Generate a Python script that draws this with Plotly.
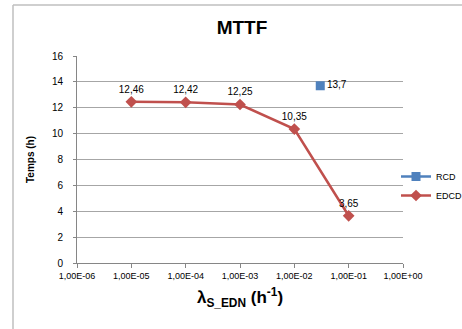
import plotly.graph_objects as go

# Data
edcd_x = [1e-5, 1e-4, 1e-3, 1e-2, 1e-1]
edcd_y = [12.46, 12.42, 12.25, 10.35, 3.65]
rcd_x = [0.03]
rcd_y = [13.7]
x_tickvals = [1e-6, 1e-5, 1e-4, 1e-3, 1e-2, 1e-1, 1e0]
x_ticktext = ["1,00E-06", "1,00E-05", "1,00E-04", "1,00E-03", "1,00E-02", "1,00E-01", "1,00E+00"]


def fmt(v):
    return ("%g" % v).replace(".", ",")


FONT = "Liberation Sans, Arial, sans-serif"
BLUE = "#4F81BD"
RED = "#C0504D"

fig = go.Figure()
fig.add_trace(go.Scatter(
    x=rcd_x, y=rcd_y, name="RCD", mode="lines+markers+text",
    marker=dict(symbol="square", size=9, color=BLUE),
    line=dict(color=BLUE, width=2.5),
    text=[fmt(v) for v in rcd_y], textposition="middle right",
    textfont=dict(size=10, color="#000000", family=FONT),
))
fig.add_trace(go.Scatter(
    x=edcd_x, y=edcd_y, name="EDCD", mode="lines+markers+text",
    marker=dict(symbol="diamond", size=9, color=RED),
    line=dict(color=RED, width=2.5),
    text=[fmt(v) for v in edcd_y], textposition="top center",
    textfont=dict(size=10, color="#000000", family=FONT),
))

L, R, T, B = 77, 59, 56, 66
W, H = 462, 329
pw = W - L - R
ph = H - T - B

fig.update_layout(
    width=W, height=H,
    margin=dict(l=L, r=R, t=T, b=B, pad=0, autoexpand=False),
    paper_bgcolor="white", plot_bgcolor="white",
    font=dict(family=FONT, color="#000000", size=10),
    title=dict(text="<b>MTTF</b>", x=(242) / W, xanchor="center",
               y=1 - 27 / H, yanchor="middle",
               font=dict(size=19, family=FONT, color="#000000")),
    showlegend=True,
    legend=dict(xref="container", x=396 / W, xanchor="left",
                yref="container", y=1 - 186 / H, yanchor="middle",
                font=dict(size=9, family=FONT), bgcolor="rgba(0,0,0,0)",
                borderwidth=0, tracegroupgap=0),
    xaxis=dict(
        type="log", range=[-6, 0], tickvals=x_tickvals, ticktext=x_ticktext,
        showgrid=False, showline=True, linecolor="#868686", linewidth=1,
        ticks="outside", ticklen=4, tickcolor="#868686",
        tickfont=dict(size=9, family=FONT),
        title=dict(text="<b>λ<sub>S_EDN</sub> (h<sup>-1</sup>)</b>",
                   font=dict(size=17, family=FONT), standoff=11),
        zeroline=False,
    ),
    yaxis=dict(
        range=[0, 16], dtick=2, showgrid=True, gridcolor="#A6A6A6", gridwidth=1,
        showline=True, linecolor="#868686", linewidth=1,
        ticks="outside", ticklen=3, tickcolor="#868686",
        ticklabelstandoff=8,
        tickfont=dict(size=10, family=FONT),
        title=dict(text="<b>Temps (h)</b>", font=dict(size=10, family=FONT), standoff=15),
        zeroline=False,
    ),
)

# chart frame (left and top edges visible)
fx0 = (13 - L) / pw
fy1 = (H - B - 5) / ph
fig.add_shape(type="line", xref="paper", yref="paper",
              x0=fx0, x1=fx0, y0=fy1, y1=-(H - (H - B)) / ph,
              line=dict(color="#BFBFBF", width=1.5), layer="below")
fig.add_shape(type="line", xref="paper", yref="paper",
              x0=fx0, x1=(W - L) / pw, y0=fy1, y1=fy1,
              line=dict(color="#BFBFBF", width=1.5), layer="below")

fig.write_html("out.html", config={"displayModeBar": False},
               post_script="document.body.style.margin='0px';document.body.style.overflow='hidden';")
